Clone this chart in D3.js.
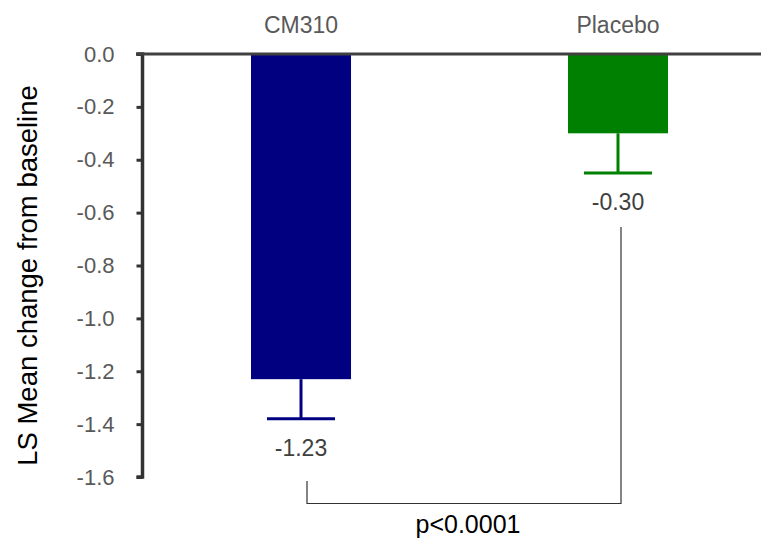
<!DOCTYPE html>
<html>
<head>
<meta charset="utf-8">
<script src="https://cdn.jsdelivr.net/npm/d3@7"></script>
<style>
  body { margin: 0; background: #fff; }
  svg { display: block; font-family: "Liberation Sans", Arial, sans-serif; }
</style>
</head>
<body>
<svg id="chart" width="761" height="541"></svg>
<script>
// data
const groups = ["CM310", "Placebo"];
const means = [-1.23, -0.30];
const errLow = [-1.38, -0.45];
const valueLabels = ["-1.23", "-0.30"];
const barColors = ["#000080", "#008000"];
const yTicks = [0, -0.2, -0.4, -0.6, -0.8, -1.0, -1.2, -1.4, -1.6];
const pText = "p<0.0001";

const svg = d3.select("#chart");

const x = d3.scaleBand()
  .domain(groups)
  .range([251, 668])
  .paddingInner(0.6845)
  .paddingOuter(0);

const y = d3.scaleLinear()
  .domain([0, -1.6])
  .range([54, 477]);

// bars
svg.selectAll("rect.bar")
  .data(groups)
  .join("rect")
  .attr("class", "bar")
  .attr("x", d => x(d))
  .attr("y", y(0))
  .attr("width", x.bandwidth())
  .attr("height", (d, i) => y(means[i]) - y(0))
  .attr("fill", (d, i) => barColors[i]);

// error bars
const capHalf = 34;
groups.forEach((g, i) => {
  const cx = x(g) + x.bandwidth() / 2;
  svg.append("line")
    .attr("x1", cx).attr("x2", cx)
    .attr("y1", y(means[i])).attr("y2", y(errLow[i]))
    .attr("stroke", barColors[i]).attr("stroke-width", 3);
  svg.append("line")
    .attr("x1", cx - capHalf).attr("x2", cx + capHalf)
    .attr("y1", y(errLow[i])).attr("y2", y(errLow[i]))
    .attr("stroke", barColors[i]).attr("stroke-width", 3);
  svg.append("text")
    .attr("x", cx)
    .attr("y", y(errLow[i]) + 37)
    .attr("text-anchor", "middle")
    .attr("font-size", 23)
    .attr("fill", "#404040")
    .text(valueLabels[i]);
  // group labels on top
  svg.append("text")
    .attr("x", cx)
    .attr("y", 33)
    .attr("text-anchor", "middle")
    .attr("font-size", 23)
    .attr("fill", "#595959")
    .text(g);
});

// y axis (plain hyphen minus, like the reference)
const fmt = d => d3.format(".1f")(d).replace("\u2212", "-");
const yAxis = svg.append("g")
  .attr("transform", "translate(142.5,0)")
  .call(d3.axisLeft(y).tickValues(yTicks).tickFormat(fmt).tickSize(6).tickPadding(22));
yAxis.select(".domain").attr("stroke", "#333").attr("stroke-width", 3.5);
yAxis.selectAll(".tick line").attr("stroke", "#333").attr("stroke-width", 3);
yAxis.selectAll(".tick text")
  .attr("font-size", 22)
  .attr("fill", "#595959")
  .attr("font-family", "Liberation Sans, Arial, sans-serif");
yAxis.select(".domain").attr("d", `M-6,${y(-1.6)}H0V${y(0)}H-6`);

// zero line across the top
svg.append("line")
  .attr("x1", 136).attr("x2", 761)
  .attr("y1", y(0)).attr("y2", y(0))
  .attr("stroke", "#404040").attr("stroke-width", 3);

// y axis title
svg.append("text")
  .attr("transform", `translate(37,${(83 + 468) / 2}) rotate(-90)`)
  .attr("text-anchor", "middle")
  .attr("font-size", 27.5)
  .attr("fill", "#000")
  .text("LS Mean change from baseline");

// significance bracket
const xl = x(groups[0]) + x.bandwidth() / 2 + 6;
const xr = x(groups[1]) + x.bandwidth() / 2 + 3;
const bracketY = 503.5;
svg.append("path")
  .attr("d", `M${xl},481V${bracketY}H${xr}V227`)
  .attr("fill", "none")
  .attr("stroke", "#333")
  .attr("stroke-width", 1.2);

svg.append("text")
  .attr("x", (xl + xr) / 2 + 4)
  .attr("y", 533)
  .attr("text-anchor", "middle")
  .attr("font-size", 25)
  .attr("fill", "#000")
  .text(pText);
</script>
</body>
</html>
